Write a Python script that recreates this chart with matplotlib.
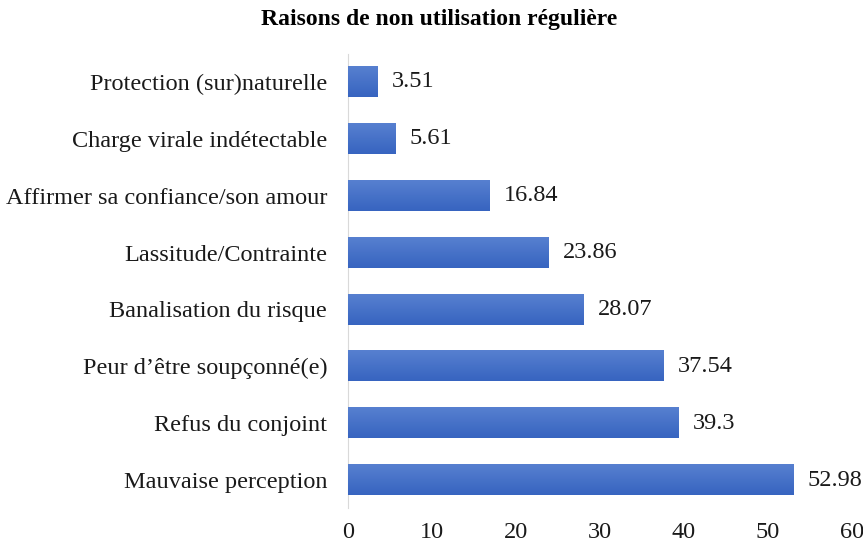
import matplotlib
matplotlib.use('Agg')
from matplotlib import pyplot as plt
import numpy as np

plt.rcParams['font.family'] = ['Liberation Serif', 'DejaVu Serif']

categories = ['Mauvaise perception', 'Refus du conjoint', "Peur d\u2019être soupçonné(e)",
              'Banalisation du risque', 'Lassitude/Contrainte',
              'Affirmer sa confiance/son amour', 'Charge virale indétectable',
              'Protection (sur)naturelle']
values = [52.98, 39.3, 37.54, 28.07, 23.86, 16.84, 5.61, 3.51]
labels = ['52.98', '39.3', '37.54', '28.07', '23.86', '16.84', '5.61', '3.51']
xticks = [0, 10, 20, 30, 40, 50, 60]

fig = plt.figure(figsize=(8.63, 5.46), dpi=100)
ax = fig.add_axes([0.4032, 0.0687, 0.5841, 0.8333])

y = np.arange(len(categories))
bars = ax.barh(y, values, height=0.53, color='#4470c4', zorder=2)

# vertical gradient, lighter on top
grad = np.linspace(0, 1, 64).reshape(-1, 1)
cmap = matplotlib.colors.LinearSegmentedColormap.from_list('g', ['#5780d0', '#3764c0'])
for b in bars:
    x0, y0 = b.get_x(), b.get_y()
    ax.imshow(grad, extent=(x0, x0 + b.get_width(), y0, y0 + b.get_height()),
              cmap=cmap, aspect='auto', zorder=3, origin='upper')

for yi, v, s in zip(y, values, labels):
    ax.text(v + 1.7, yi, s, va='center', ha='left', fontsize=17.5, color='#1a1a1a')

ax.set_xlim(0, 60)
ax.set_ylim(-0.5, len(categories) - 0.5)
ax.set_xticks(xticks)
ax.set_yticks(y)
ax.set_yticklabels(categories)
ax.tick_params(axis='both', length=0, labelsize=17.5, colors='#1a1a1a')
ax.tick_params(axis='y', pad=15)
ax.tick_params(axis='x', pad=10)
for side in ['top', 'right', 'bottom']:
    ax.spines[side].set_visible(False)
ax.spines['left'].set_color('#d9d9d9')

fig.text(0.509, 0.964, 'Raisons de non utilisation régulière', ha='center', va='center',
         fontsize=17, fontweight='bold')

fig.savefig('out.png', dpi=100)
